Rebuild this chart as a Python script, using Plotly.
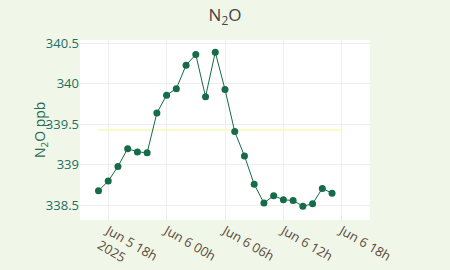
import plotly.graph_objects as go
import pandas as pd

times = pd.date_range("2025-06-05 17:00", periods=25, freq="h")
n2o_ppb = [338.68, 338.80, 338.98, 339.20, 339.16, 339.15, 339.64, 339.86, 339.94,
           340.23, 340.36, 339.84, 340.39, 339.93, 339.41, 339.11, 338.76, 338.53,
           338.62, 338.57, 338.56, 338.49, 338.52, 338.71, 338.65]
ref_level = 339.43
ref_x = ["2025-06-05 17:00", "2025-06-06 17:55"]

fig = go.Figure()
fig.add_trace(go.Scatter(x=ref_x, y=[ref_level, ref_level], mode="lines",
                         line=dict(color="rgba(250,250,190,0.9)", width=2),
                         hoverinfo="skip", showlegend=False))
fig.add_trace(go.Scatter(x=times, y=n2o_ppb, mode="lines+markers",
                         line=dict(color="#166b48", width=1),
                         marker=dict(color="#166b48", size=7),
                         showlegend=False))

fig.update_layout(
    width=450, height=270,
    margin=dict(l=80, r=80, t=40, b=50, autoexpand=False),
    paper_bgcolor="#f0f6e8",
    plot_bgcolor="#ffffff",
    font=dict(family="Open Sans", size=12),
    title=dict(text="N<sub>2</sub>O", x=0.5, xanchor="center", y=0.965,
               font=dict(size=17, color="#444444")),
    annotations=[dict(text="N<sub>2</sub>O ppb", textangle=-90, xref="paper", yref="paper",
                      x=-0.138, y=0.5, xanchor="center", yanchor="middle", showarrow=False,
                      font=dict(color="#2b6b50", size=14))],
)
fig.update_xaxes(range=["2025-06-05 15:06", "2025-06-06 20:54"],
                 dtick=6*3600*1000, tick0="2025-06-05 18:00",
                 tickformat="%b %-d %Hh\n%Y", tickangle=30, automargin=False,
                 tickfont=dict(color="#5a4a3a", size=13),
                 gridcolor="#eeeeee", showline=False, zeroline=False)
fig.update_yaxes(range=[338.32, 340.54], dtick=0.5, automargin=False,
                 tickfont=dict(color="#1d6e63", size=13),
                 gridcolor="#eeeeee", showline=False, zeroline=False)

fig.write_html("out.html")
